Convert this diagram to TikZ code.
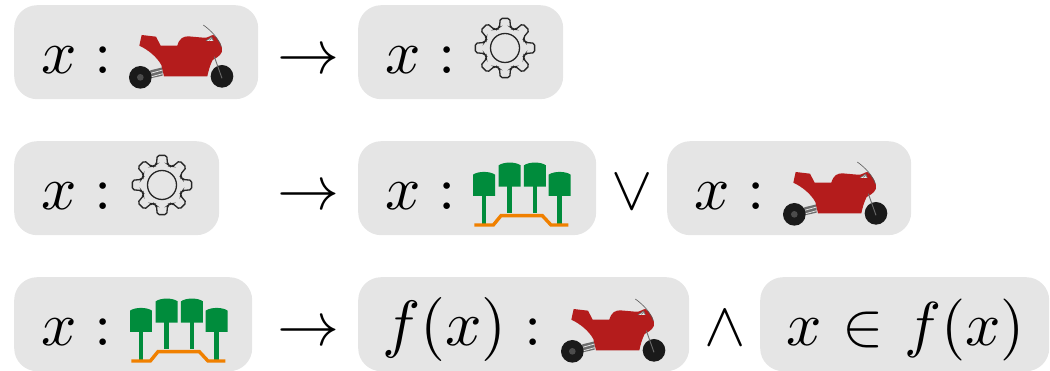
\documentclass[tikz,border=0pt]{standalone}
\usepackage{amsmath}
\DeclareFontShape{OML}{cmm}{m}{it}{<->cmmi10}{}
\DeclareFontShape{OMS}{cmsy}{m}{n}{<->cmsy10}{}
\DeclareFontShape{OT1}{cmr}{m}{n}{<->cmr10}{}
\DeclareFontShape{OMX}{cmex}{m}{n}{<->cmex10}{}
\definecolor{boxgray}{HTML}{E5E5E5}
\definecolor{bikered}{HTML}{B41C1C}
\definecolor{wheelblack}{HTML}{1A1A1A}
\definecolor{treegreen}{HTML}{008C3C}
\definecolor{railorange}{HTML}{F08000}
\tikzset{
  tile/.style={fill=boxgray,rounded corners=23pt,inner sep=0pt,minimum height=94pt,anchor=north west},
  mathtext/.style={inner sep=0pt,anchor=base west,font=\fontsize{62}{70}\selectfont},
  mathlarge/.style={inner sep=0pt,anchor=base west,font=\fontsize{64}{70}\selectfont},
  gearline/.style={draw=black!85,line width=1.3pt,fill=none},
  bike/.pic={
    \begin{scope}[shift={(120,15)},x=0.3333pt,y=-0.3333pt]
      \fill[gray!85!black] (95,165) -- (128,157) -- (128,182) -- (65,196) -- (60,178) -- cycle;
      \draw[white!80!gray,line width=0.8pt] (70,181) -- (128,165);
      \draw[white!80!gray,line width=0.8pt] (70,192) -- (128,176);
      \fill[wheelblack] (61,187) circle (34);
      \fill[gray!60!black] (61,187) circle (10);
      \fill[wheelblack] (306,184) circle (34);
      \fill[bikered] (65,60) -- (108,65) -- (122,92) -- (172,92) .. controls (178,70) and (190,64) .. (205,64)
        -- (250,68) .. controls (265,70) and (272,60) .. (280,60)
        .. controls (298,72) and (308,95) .. (306,110) .. controls (300,125) and (285,130) .. (278,135)
        .. controls (270,150) and (265,170) .. (262,184) -- (132,184) -- (124,150) .. controls (110,125) and (85,105) .. (58,92) -- cycle;
      \draw[gray!85!black,line width=0.9pt] (283,125) -- (306,190);
      \draw[gray!70!black,line width=0.6pt] (250,30) .. controls (275,48) and (295,70) .. (304,95);
      \fill[white!85!gray] (258,78) -- (275,66) -- (280,78) -- cycle;
      \draw[gray!80!black,line width=0.6pt] (258,78) -- (275,66) -- (280,78) (268,76) -- (276,70);
    \end{scope}
  },
  gearpic/.pic={
    \draw[gearline,rounded corners=1.8pt]
      (-22.5:20.5) \foreach \a in {0,45,...,315}{ -- (\a-15:21.5) -- (\a-9:30) -- (\a+9:30) -- (\a+15:21.5) -- (\a+22.5:20.5) } -- cycle;
    \draw[gearline] (0,0) circle (14.5pt);
  },
  treespic/.pic={
    \begin{scope}[shift={(465,150)},x=0.3333pt,y=-0.3333pt]
      \foreach \c/\t in {57/64,134/36,210/36,284/64}{
        \fill[treegreen] (\c-7,\t+60) rectangle (\c+7,{\t<50?190:222});
        \fill[treegreen] (\c-33,\t+10) .. controls (\c-18,\t-1) and (\c+18,\t-1) .. (\c+33,\t+10) -- (\c+33,\t+74) -- (\c-33,\t+74) -- cycle;
      }
      \draw[railorange,line width=3.4pt] (28,225) -- (85,225) -- (108,197) -- (232,197) -- (258,225) -- (310,225);
    \end{scope}
  }
}
\begin{document}
\begin{tikzpicture}[x=1pt,y=-1pt]
\useasboundingbox (0,0) rectangle (1050,371);
\begin{scope}
\clip (0,0) rectangle (1050,371);
\node[tile,minimum width=244pt] (a1) at (14,5) {};
\node[tile,minimum width=205pt] (a2) at (358,5) {};
\node[tile,minimum width=205pt] (b1) at (14,141) {};
\node[tile,minimum width=238pt] (b2) at (358,141) {};
\node[tile,minimum width=244pt] (b3) at (667,141) {};
\node[tile,minimum width=238pt] (c1) at (14,277) {};
\node[tile,minimum width=331pt] (c2) at (358,277) {};
\node[tile,minimum width=289pt] (c3) at (760,277) {};
\end{scope}
\node[mathtext] (t1) at (41,74) {$x$};
\node[mathtext] (t1c) at (94,74) {$:$};
\node[mathtext] (ar1) at (277,74) {$\rightarrow$};
\node[mathtext] (t2) at (385,74) {$x$};
\node[mathtext] (t2c) at (438,74) {$:$};
\node[mathtext] (t3) at (41,210) {$x$};
\node[mathtext] (t3c) at (94,210) {$:$};
\node[mathtext] (ar2) at (277,210) {$\rightarrow$};
\node[mathtext] (t4) at (385,210) {$x$};
\node[mathtext] (t4c) at (438,210) {$:$};
\node[mathtext] (or1) at (611,210) {$\vee$};
\node[mathtext] (t5) at (694,210) {$x$};
\node[mathtext] (t5c) at (747,210) {$:$};
\node[mathtext] (t6) at (41,346) {$x$};
\node[mathtext] (t6c) at (94,346) {$:$};
\node[mathtext] (ar3) at (277,346) {$\rightarrow$};
\node[mathlarge] (t7) at (382,346) {$f(x)$};
\node[mathtext] (t7c) at (524.5,346) {$:$};
\node[mathtext] (and1) at (704,346) {$\wedge$};
\node[mathtext] (t8) at (786,346) {$x\mkern1mu\in\mkern1mu f(x)$};
\pic at (0,0) {bike};
\pic at (505,48) {gearpic};
\pic at (162,185) {gearpic};
\pic at (0,0) {treespic};
\pic at (654,137) {bike};
\pic at (-343,136) {treespic};
\pic at (432,274) {bike};
\end{tikzpicture}
\end{document}
